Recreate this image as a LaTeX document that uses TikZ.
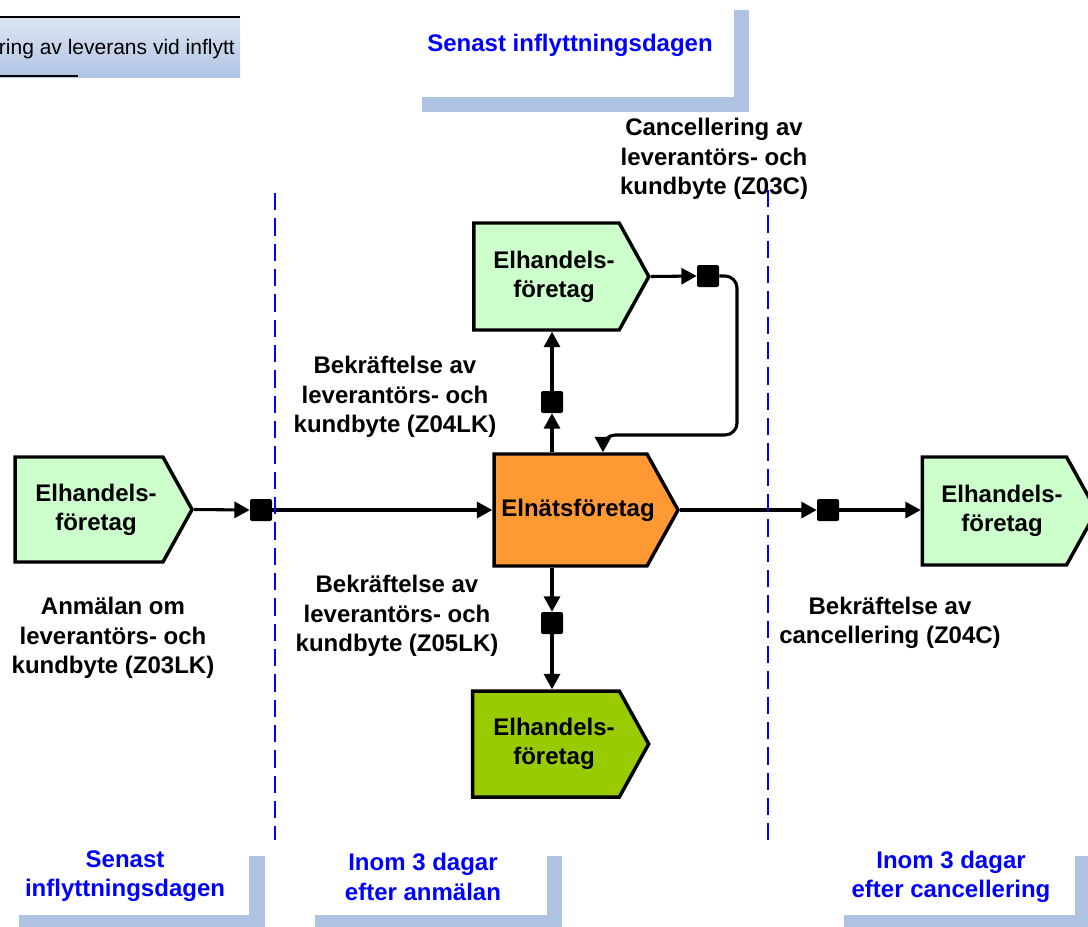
\documentclass[tikz,border=0pt]{standalone}
\usepackage{fontspec}
\setmainfont{Liberation Sans}
\usetikzlibrary{shapes.symbols,arrows.meta,calc}
\definecolor{lgreen}{HTML}{CCFFCC}
\definecolor{orng}{HTML}{FF9933}
\definecolor{dgreen}{HTML}{99CC00}
\definecolor{shadowblue}{RGB}{174,194,226}
\definecolor{titletop}{RGB}{222,229,241}
\definecolor{titlebot}{RGB}{176,196,228}
\definecolor{textblue}{RGB}{0,0,255}
\begin{document}
\begin{tikzpicture}[x=0.75pt,y=-0.75pt,
  proc/.style={signal, signal to=east, signal pointer angle=122, draw=black, line width=2.6pt, inner sep=0pt},
  ptext/.style={font=\bfseries\fontsize{18}{21.75}\selectfont, align=center, inner sep=0pt},
  sq/.style={rectangle, fill=black, minimum size=16.5pt, inner sep=0pt, rounded corners=1.5pt},
  conn/.style={line width=2.3pt, -{Triangle[length=11.5pt,width=12pt]}},
  lbl/.style={font=\bfseries\fontsize{18}{22}\selectfont, align=center},
  blbl/.style={lbl, text=textblue},
  divider/.style={draw=textblue, line width=1.5pt, dash pattern=on 13pt off 6pt},
  shadowbar/.style={fill=shadowblue}
]
\clip (0,0) rectangle (1088,926);
\fill[white] (0,0) rectangle (1088,926);

% title box
\shade[top color=titletop, bottom color=titlebot] (0,17) rectangle (240,77);
\draw[line width=1.5pt] (0,17) -- (240,17);
\draw[line width=1.5pt] (0,76) -- (78,76);
\node[anchor=base east, font=\fontsize{15.75}{18}\selectfont, inner sep=0pt] (title) at (235,54) {ring av leverans vid inflytt};

% top date box
\fill[shadowbar] (734,10) rectangle (749,112);
\fill[shadowbar] (422,97) rectangle (749,112);
\node[blbl] (topdate) at (570,45) {Senast inflyttningsdagen};

% bottom date boxes
\fill[shadowbar] (249,856) rectangle (265,930);
\fill[shadowbar] (19,915) rectangle (265,930);
\node[blbl] (d1) at (125,876) {Senast\\inflyttningsdagen};
\fill[shadowbar] (547,856) rectangle (562,930);
\fill[shadowbar] (315,915) rectangle (562,930);
\node[blbl] (d2) at (423,877) {Inom 3 dagar\\efter anmälan};
\fill[shadowbar] (1075,856) rectangle (1095,930);
\fill[shadowbar] (844,915) rectangle (1095,930);
\node[blbl] (d3) at (951,877) {Inom 3 dagar\\efter cancellering};

% process nodes (center = body centre; pointer extends to the right)
\node[proc, fill=lgreen, minimum width=132.75pt, minimum height=78.75pt] (L) at (89,509.5) {};
\node[proc, fill=lgreen, minimum width=131.25pt, minimum height=80.25pt] (T) at (546.5,276.5) {};
\node[proc, fill=orng, minimum width=138pt, minimum height=84pt] (E) at (570.5,510) {};
\node[proc, fill=lgreen, minimum width=130.5pt, minimum height=81pt] (R) at (994.5,511) {};
\node[proc, fill=dgreen, minimum width=132pt, minimum height=79.5pt] (B) at (546,744) {};

\node[ptext] (Ltxt) at (96,510) {Elhandels-\\företag};
\node[ptext] (Ttxt) at (554,277) {Elhandels-\\företag};
\node[ptext] (Etxt) at (578,510) {Elnätsföretag};
\node[ptext] (Rtxt) at (1002,511) {Elhandels-\\företag};
\node[ptext] (Btxt) at (554,744) {Elhandels-\\företag};

% squares
\node[sq] (sq1) at (261,510) {};
\node[sq] (sq2) at (552,402) {};
\node[sq] (sq3) at (708,276) {};
\node[sq] (sq4) at (828,510) {};
\node[sq] (sq5) at (552,623) {};

% connectors
\draw[conn] (L.east) -- (sq1.west);
\draw[conn] (sq1.east) -- (E.west);
\draw[conn] (sq2 |- E.north) -- (sq2.south);
\draw[conn] (sq2.north) -- (sq2 |- T.south);
\draw[conn] (T.east) -- (sq3.west);
\coordinate (lr) at (737,435);
\coordinate (ll) at (603,435);
\draw[conn, rounded corners=9pt] (sq3.east) -| (lr) -- (ll) -- (ll |- E.north);
\draw[conn] (E.east) -- (sq4.west);
\draw[conn] (sq4.east) -- (sq4 -| R.west);
\draw[conn] (sq5 |- E.south) -- (sq5.north);
\draw[conn] (sq5.south) -- (sq5 |- B.north);

% labels
\node[lbl] (z03c) at (714,159) {Cancellering av\\leverantörs- och\\kundbyte (Z03C)};
\node[lbl] (z04lk) at (395,397) {Bekräftelse av\\leverantörs- och\\kundbyte (Z04LK)};
\node[lbl] (z05lk) at (397,616) {Bekräftelse av\\leverantörs- och\\kundbyte (Z05LK)};
\node[lbl] (z03lk) at (113,638) {Anmälan om\\leverantörs- och\\kundbyte (Z03LK)};
\node[lbl] (z04c) at (890,623) {Bekräftelse av\\cancellering (Z04C)};

% dividers
\coordinate (v1t) at (275,193); \coordinate (v1b) at (275,840);
\coordinate (v2t) at (768,190); \coordinate (v2b) at (768,840);
\draw[divider] (v1t) -- (v1b);
\draw[divider] (v2t) -- (v2b);
\end{tikzpicture}
\end{document}
